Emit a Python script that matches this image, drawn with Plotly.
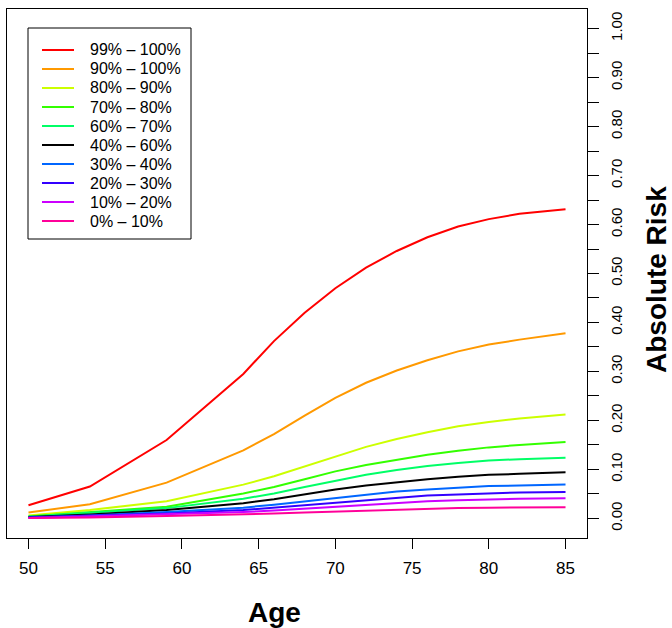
import plotly.graph_objects as go

# Ages at which absolute risk is evaluated
ages = [50, 54, 59, 64, 66, 68, 70, 72, 74, 76, 78, 80, 82, 85]

# Percentile bands of the risk distribution
bands = ["99% – 100%", "90% – 100%", "80% – 90%", "70% – 80%", "60% – 70%",
         "40% – 60%", "30% – 40%", "20% – 30%", "10% – 20%", "0% – 10%"]

band_colors = ["#FF0000", "#FF9900", "#CCFF00", "#33FF00", "#00FF66",
               "#000000", "#0066FF", "#3300FF", "#CC00FF", "#FF0099"]

risk_99_100 = [0.027, 0.065, 0.160, 0.295, 0.362, 0.420, 0.470, 0.512, 0.546, 0.574, 0.596, 0.611, 0.622, 0.631]
risk_90_100 = [0.012, 0.029, 0.073, 0.139, 0.172, 0.210, 0.246, 0.277, 0.302, 0.323, 0.341, 0.355, 0.365, 0.378]
risk_80_90 = [0.006, 0.017, 0.035, 0.069, 0.086, 0.106, 0.127, 0.146, 0.162, 0.176, 0.188, 0.197, 0.204, 0.212]
risk_70_80 = [0.004, 0.013, 0.024, 0.051, 0.064, 0.080, 0.096, 0.109, 0.120, 0.130, 0.138, 0.145, 0.150, 0.156]
risk_60_70 = [0.004, 0.011, 0.021, 0.040, 0.051, 0.064, 0.077, 0.089, 0.099, 0.107, 0.113, 0.118, 0.121, 0.124]
risk_40_60 = [0.003, 0.008, 0.017, 0.031, 0.039, 0.049, 0.059, 0.067, 0.074, 0.080, 0.085, 0.089, 0.091, 0.094]
risk_30_40 = [0.002, 0.006, 0.013, 0.022, 0.028, 0.035, 0.042, 0.049, 0.055, 0.059, 0.063, 0.066, 0.067, 0.069]
risk_20_30 = [0.002, 0.005, 0.010, 0.017, 0.022, 0.027, 0.033, 0.038, 0.043, 0.047, 0.049, 0.051, 0.053, 0.054]
risk_10_20 = [0.001, 0.004, 0.008, 0.013, 0.016, 0.020, 0.024, 0.028, 0.032, 0.035, 0.037, 0.039, 0.040, 0.041]
risk_0_10 = [0.001, 0.002, 0.005, 0.008, 0.010, 0.012, 0.014, 0.016, 0.018, 0.020, 0.021, 0.022, 0.022, 0.023]

series = [risk_99_100, risk_90_100, risk_80_90, risk_70_80, risk_60_70,
          risk_40_60, risk_30_40, risk_20_30, risk_10_20, risk_0_10]

x_ticks = [50, 55, 60, 65, 70, 75, 80, 85]
y_ticks = [i / 20 for i in range(21)]
y_ticktext = [f"{v:.2f}" if i % 2 == 0 else "" for i, v in enumerate(y_ticks)]

FONT = "Liberation Sans, Arial, Helvetica, sans-serif"

# Figure geometry (pixels) used to place the boxed key inside the plot area
W, H = 672, 628
ML, MR, MT, MB = 7, 85, 9, 90
PW, PH = W - ML - MR, H - MT - MB


def px_x(px):
    return (px - ML) / PW


def px_y(py):
    return (H - MB - py) / PH


fig = go.Figure()
for name, color, values in zip(bands, band_colors, series):
    fig.add_trace(go.Scatter(
        x=ages, y=values, mode="lines", name=name,
        line=dict(color=color, width=2),
    ))

# Boxed key in the top-left corner
shapes = [dict(type="rect", xref="paper", yref="paper",
               x0=px_x(28), x1=px_x(191), y0=px_y(239), y1=px_y(28),
               line=dict(color="black", width=1), fillcolor="white", layer="above")]
annotations = []
for i, (name, color) in enumerate(zip(bands, band_colors)):
    row = 50 + 19 * i
    shapes.append(dict(type="line", xref="paper", yref="paper",
                       x0=px_x(42), x1=px_x(74), y0=px_y(row), y1=px_y(row),
                       line=dict(color=color, width=2), layer="above"))
    annotations.append(dict(text=name, xref="paper", yref="paper",
                            x=px_x(88), y=px_y(row), xanchor="left", yanchor="middle",
                            showarrow=False, font=dict(size=16, family=FONT, color="black")))

annotations += [
    dict(text="<b>Age</b>", xref="paper", yref="paper", x=px_x(274), y=px_y(612),
         xanchor="center", yanchor="middle", showarrow=False,
         font=dict(size=28, family=FONT)),
    dict(text="<b>Absolute Risk</b>", xref="paper", yref="paper", x=px_x(656), y=px_y(280),
         xanchor="center", yanchor="middle", showarrow=False, textangle=-90,
         font=dict(size=28, family=FONT)),
]

fig.update_layout(
    width=W, height=H,
    margin=dict(l=ML, r=MR, t=MT, b=MB),
    paper_bgcolor="white", plot_bgcolor="white",
    font=dict(family=FONT, color="black", size=15),
    showlegend=False,
    xaxis=dict(
        range=[48.6, 86.4], tickvals=x_ticks, ticks="outside", ticklen=10,
        tickcolor="black", showgrid=False, zeroline=False,
        showline=True, mirror=True, linecolor="black", linewidth=1,
        tickfont=dict(size=17), ticklabelstandoff=5,
    ),
    yaxis=dict(
        side="right", range=[-0.04, 1.04], tickvals=y_ticks, ticktext=y_ticktext,
        ticks="outside", ticklen=11, tickcolor="black", tickangle=-90,
        showgrid=False, zeroline=False,
        showline=True, mirror=True, linecolor="black", linewidth=1,
        tickfont=dict(size=15), ticklabelstandoff=5,
    ),
    shapes=shapes,
    annotations=annotations,
)

fig.write_html("out.html")
